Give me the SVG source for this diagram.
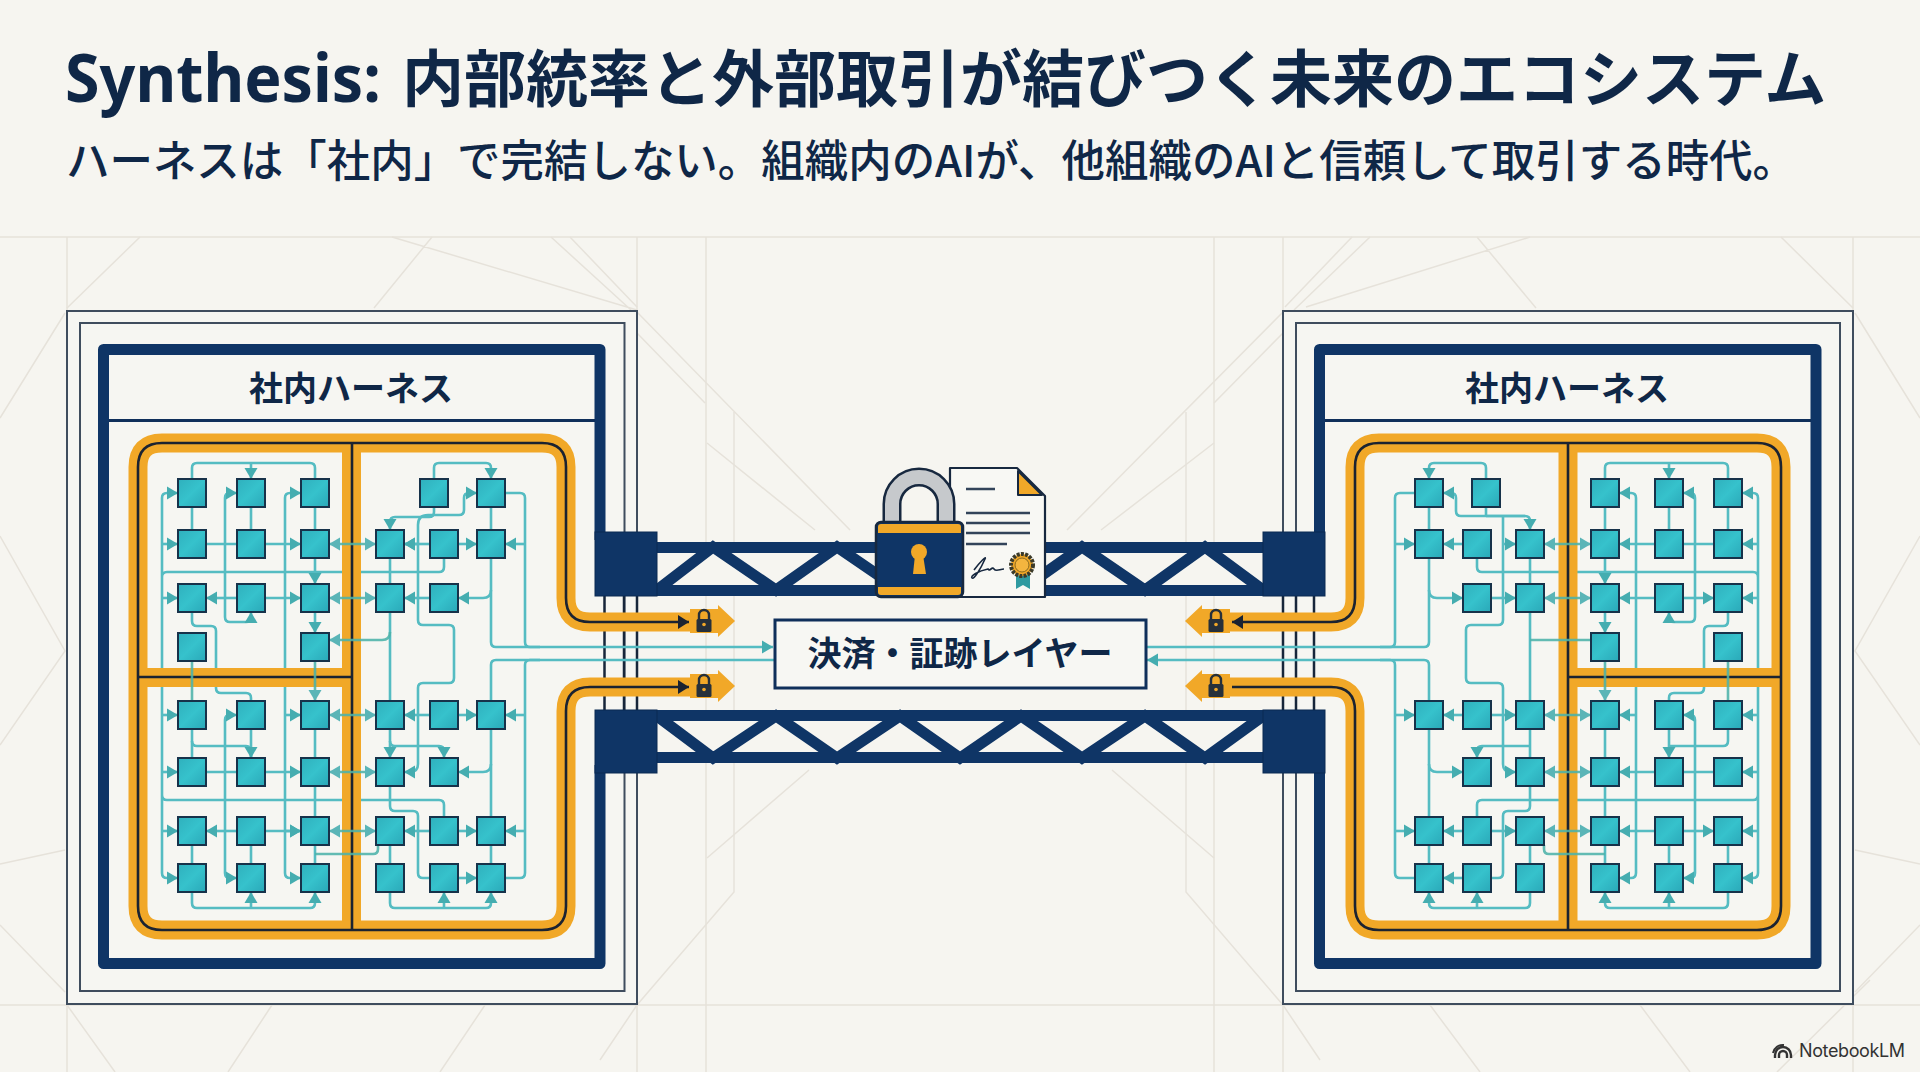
<svg xmlns="http://www.w3.org/2000/svg" width="1920" height="1072" viewBox="0 0 1920 1072">
<style>
text{font-family:"Noto Sans CJK JP","Noto Sans",sans-serif;fill:#0f2747}
.bg line,.bg path{stroke:#e6e2da;stroke-width:1.5;fill:none}
.o1{fill:#f6f6f2;stroke:#3f4d5e;stroke-width:2}
.fr{fill:none;stroke:#0f3566;stroke-width:11;stroke-linejoin:round}
.thin{stroke:#17263a;stroke-width:2.5;fill:none}
.hd{stroke:#0f2f5a;stroke-width:3}
.ob{fill:none;stroke:#f1a828;stroke-width:19}
.obk{fill:none;stroke:#1b2331;stroke-width:2.6}
.c path{fill:none;stroke:#55bcc2;stroke-width:2.6}
.c path.a{marker-end:url(#ah)}
.c path.d{marker-start:url(#ah);marker-end:url(#ah)}
.f path{stroke:#4db3aa;opacity:.88}
.n{fill:url(#ng);stroke:#17324a;stroke-width:2}
.blk{fill:#0f3566;stroke:#0b2a52;stroke-width:1}
.ch{fill:#0f3566}
.dg{stroke:#0f3566;stroke-width:11;fill:none}
.chip{fill:#f1a828}
.lk{fill:#26303a}
.lks{fill:none;stroke:#26303a;stroke-width:2.4}
.dl{stroke:#33445a;stroke-width:2.6}
</style>
<defs>
<linearGradient id="ng" x1="0" y1="0" x2="1" y2="1"><stop offset="0" stop-color="#2fb0bd"/><stop offset=".5" stop-color="#36c2cc"/><stop offset="1" stop-color="#2aa8b8"/></linearGradient>
<marker id="ah" markerUnits="userSpaceOnUse" markerWidth="12" markerHeight="14" refX="11" refY="7" orient="auto-start-reverse"><path d="M0,.5L11,7L0,13.5Z" fill="#45adb0"/></marker>
<marker id="bh" markerUnits="userSpaceOnUse" markerWidth="12" markerHeight="14" refX="11" refY="7" orient="auto"><path d="M0,0L11,7L0,14Z" fill="#1b2331"/></marker>
<g id="tinylock"><path class="lks" d="M-5,-1V-6A5,5 0 0 1 5,-6V-1"/><rect class="lk" x="-7.5" y="-2" width="15" height="13" rx="1.5"/><circle cx="0" cy="3.5" r="1.8" fill="#f1a828"/></g>
</defs>
<rect width="1920" height="1072" fill="#f6f5f0"/>
<g id="background" class="bg">
<line x1="0" y1="237" x2="1920" y2="237"/><line x1="0" y1="1005" x2="1920" y2="1005"/>
<line x1="67" y1="237" x2="67" y2="1072"/><line x1="637" y1="237" x2="637" y2="1072"/><line x1="706" y1="237" x2="706" y2="1072"/><line x1="1214" y1="237" x2="1214" y2="1072"/><line x1="1283" y1="237" x2="1283" y2="1072"/><line x1="1853" y1="237" x2="1853" y2="1072"/>
<path d="M734,412V892L637,1005L600,1060M1186,412V892L1283,1005L1320,1060"/>
<path d="M140,237L67,308M432,237L374,308M392,237L637,310M551,237L631,310M570,237L637,307M1352,237L1285,307M1370,237L1294,310M1530,237L1306,307M1477,237L1536,308M1781,237L1853,308"/>
<path d="M637,312L850,530M637,333L705,403M707,443L815,530M1283,312L1067,530M1283,333L1214,403M1214,443L1101,530M809,770L707,858M1112,770L1214,858"/>
<path d="M65,313L0,418M0,536L65,651L0,745M65,850L0,864M0,925L65,992M1855,313L1920,418M1920,536L1855,651L1920,745M1855,850L1920,864M1920,925L1855,992"/>
<path d="M67,1005L115,1072M272,1005L228,1072M485,1005L440,1072M1430,1005L1480,1072M1640,1005L1690,1072M1870,980L1777,1072"/>
</g>
<rect class="o1" x="67" y="311" width="570" height="693"/><rect class="o1" x="80" y="323" width="544.5" height="668"/>
<rect class="o1" x="1283" y="311" width="570" height="693"/><rect class="o1" x="1296" y="323" width="544" height="668"/>
<g id="harness-frames">
<path class="thin" d="M604.5,596V710M624,596V710M637,596V710M1314,596V710M1296,596V710M1283,596V710"/>
<path class="fr" d="M600,540V349.5H103.5V963.5H600V765"/>
<path class="fr" d="M1319.5,540V349.5H1816V963.5H1319.5V765"/>
<line class="hd" x1="109" y1="420.5" x2="595" y2="420.5"/><line class="hd" x1="1325" y1="420.5" x2="1811" y2="420.5"/>
</g>
<g id="connectors-under" class="c">
<path d="M162,498V873M225,498V617M225,720V873M285,498V873M444,558V567Q444,572 439,572H167Q162,572 162,577M162,795Q162,800 167,800H439Q444,800 444,805V817M192,612V621Q192,626 197,626H211Q216,626 216,631V688Q216,693 221,693H246Q251,693 251,698V701"/>
<path d="M1636,498V873M1695,498V617M1695,720V873M1758,498V873M1477,558V567Q1477,572 1482,572H1753Q1758,572 1758,577M1758,795Q1758,800 1753,800H1482Q1477,800 1477,805V817M1728,612V621Q1728,626 1723,626H1709Q1704,626 1704,631V688Q1704,693 1699,693H1674Q1669,693 1669,698V701"/>
</g>
<g id="orange-paths">
<path class="ob" d="M690,622H590Q566,622 566,598V467Q566,443 542,443H162Q138,443 138,467V906Q138,930 162,930H542Q566,930 566,906V711Q566,687 590,687H690"/>
<path class="ob" d="M351.5,443V930M138,677.5H352"/>
<path class="ob" d="M1230,622H1331Q1355,622 1355,598V467Q1355,443 1379,443H1757Q1781,443 1781,467V906Q1781,930 1757,930H1379Q1355,930 1355,906V711Q1355,687 1331,687H1230"/>
<path class="ob" d="M1568,443V930M1568,677.5H1781"/>
<path class="obk" d="M590,622Q566,622 566,598V467Q566,443 542,443H162Q138,443 138,467V906Q138,930 162,930H542Q566,930 566,906V711Q566,687 590,687"/>
<path class="obk" d="M352,443V930M138,677H352"/>
<path class="obk" d="M1331,622Q1355,622 1355,598V467Q1355,443 1379,443H1757Q1781,443 1781,467V906Q1781,930 1757,930H1379Q1355,930 1355,906V711Q1355,687 1331,687H1232"/>
<path class="obk" d="M1568,443V930M1568,677H1781"/>
<path class="obk" marker-end="url(#bh)" d="M590,622H689"/><path class="obk" marker-end="url(#bh)" d="M590,687H689"/><path class="obk" marker-end="url(#bh)" d="M1331,622H1232"/>
</g>
<g id="connectors" class="c">
<!-- left -->
<path d="M192,479V468Q192,463 197,463H310Q315,463 315,468V479"/><path class="a" d="M251,463V479"/>
<path class="a" d="M434,479V468Q434,463 439,463H486Q491,463 491,468V479"/>
<path class="a" d="M162,498Q162,493 167,493H178"/><path class="a" d="M162,873Q162,878 167,878H178"/>
<path class="a" d="M162,544H178"/><path class="a" d="M162,598H178"/><path class="a" d="M162,715H178"/><path class="a" d="M162,772H178"/><path class="a" d="M162,831H178"/>
<path class="a" d="M225,498Q225,493 230,493H237"/><path class="a" d="M225,617Q225,622 230,622H246Q251,622 251,617V612"/><path class="a" d="M225,720Q225,715 230,715H237"/><path class="a" d="M225,873Q225,878 230,878H237"/>
<path class="a" d="M285,498Q285,493 290,493H301"/><path class="a" d="M285,873Q285,878 290,878H301"/><path class="a" d="M285,715H301"/><path class="a" d="M285,831H301"/>
<path d="M192,507V530M251,507V530M315,507V530M206,544H237M206,772H237M192,729V758M251,729V758M315,729V758M315,786V817M192,845V864M251,845V864M315,845V864M390,845V864M491,845V864M491,507V530M390,558V584M390,612V701"/>
<path class="a" d="M315,558V584"/><path class="a" d="M315,612V633"/>
<path class="a" d="M265,544H301"/><path class="a" d="M418,544H404"/><path class="a" d="M430,544H404"/><path class="a" d="M458,544H477"/><path class="a" d="M525,544H505"/>
<path class="a" d="M237,598H206"/><path class="a" d="M265,598H301"/><path class="a" d="M430,598H404"/><path class="a" d="M491,590Q491,598 483,598H458"/>
<path class="a" d="M491,558V642Q491,647 496,647H773"/><path d="M505,493H520Q525,493 525,498V642Q525,647 530,647H540"/>
<path d="M775,660H496Q491,660 491,665V701"/><path d="M540,660H530Q525,660 525,665V873Q525,878 520,878H505"/>
<path d="M491,729V817"/><path class="a" d="M491,764Q491,772 483,772H458"/><path class="a" d="M525,715H505"/><path class="a" d="M525,831H505"/>
<path class="a" d="M434,507V512Q434,517 429,517H395Q390,517 390,522V530"/>
<path class="a" d="M418,525Q418,515 428,515H459Q464,515 464,510V498Q464,493 469,493H477"/>
<path class="a" d="M418,525V620Q418,625 423,625H449Q454,625 454,630V678Q454,683 449,683H423Q418,683 418,688V764Q418,772 410,772H404"/>
<path class="a" d="M390,729V758"/><path class="a" d="M390,741Q390,746 395,746H439Q444,746 444,751V758"/>
<path d="M390,786V806Q390,811 395,811H413Q418,811 418,816V873Q418,878 423,878H430"/>
<path class="a" d="M192,741Q192,746 197,746H246Q251,746 251,751V758"/>
<path class="a" d="M430,715H404"/><path class="a" d="M458,715H477"/><path class="a" d="M265,772H301"/>
<path class="a" d="M237,831H206"/><path class="a" d="M265,831H301"/><path class="a" d="M430,831H404"/><path class="a" d="M458,831H477"/><path class="a" d="M458,878H477"/>
<path class="a" d="M192,892V903Q192,908 197,908H310Q315,908 315,903V892"/><path class="a" d="M251,908V892"/>
<path class="a" d="M390,892V903Q390,908 395,908H486Q491,908 491,903V892"/><path class="a" d="M444,908V892"/>
<!-- right -->
<path class="a" d="M1486,479V468Q1486,463 1481,463H1434Q1429,463 1429,468V479"/>
<path d="M1605,479V468Q1605,463 1610,463H1723Q1728,463 1728,468V479"/><path class="a" d="M1669,463V479"/>
<path class="a" d="M1636,498Q1636,493 1631,493H1619"/><path class="a" d="M1636,873Q1636,878 1631,878H1619"/><path class="a" d="M1636,715H1619"/>
<path class="a" d="M1695,498Q1695,493 1690,493H1683"/><path class="a" d="M1695,617Q1695,622 1690,622H1674Q1669,622 1669,617V612"/><path class="a" d="M1695,720Q1695,715 1690,715H1683"/><path class="a" d="M1695,873Q1695,878 1690,878H1683"/>
<path class="a" d="M1758,498Q1758,493 1753,493H1742"/><path class="a" d="M1758,873Q1758,878 1753,878H1742"/><path class="a" d="M1758,544H1742"/><path class="a" d="M1758,598H1742"/><path class="a" d="M1758,715H1742"/><path class="a" d="M1758,772H1742"/><path class="a" d="M1758,831H1742"/>
<path d="M1605,507V530M1669,507V530M1728,507V530M1714,544H1683M1714,772H1683M1530,558V584M1530,612V701M1429,507V530M1486,507V516M1486,516H1525M1530,729V758M1429,729V817M1605,729V864M1728,729V741Q1728,746 1723,746H1669M1429,845V864M1530,845V864M1669,845V864M1728,845V864"/>
<path class="a" d="M1605,558V584"/><path class="a" d="M1605,612V633"/>
<path class="a" d="M1655,544H1619"/><path class="a" d="M1503,544H1516"/><path class="a" d="M1463,544H1443"/><path class="a" d="M1395,544H1415"/>
<path class="a" d="M1655,598H1619"/><path class="a" d="M1683,598H1714"/><path class="a" d="M1491,598H1516"/><path class="a" d="M1429,590Q1429,598 1437,598H1463"/>
<path d="M1429,558V642Q1429,647 1424,647H1146"/><path class="a" d="M1429,701V665Q1429,660 1424,660H1147"/>
<path d="M1415,493H1400Q1395,493 1395,498V642Q1395,647 1390,647H1380"/><path d="M1380,660H1390Q1395,660 1395,665V873Q1395,878 1400,878H1415"/>
<path class="a" d="M1395,715H1415"/><path class="a" d="M1395,831H1415"/>
<path class="a" d="M1525,516H1461Q1456,516 1456,511V498Q1456,493 1451,493H1443"/><path class="a" d="M1525,516Q1530,516 1530,521V530"/>
<path class="a" d="M1503,516V620Q1503,625 1498,625H1471Q1466,625 1466,630V678Q1466,683 1471,683H1498Q1503,683 1503,688V764Q1503,772 1511,772H1516"/>
<path class="a" d="M1463,715H1443"/><path class="a" d="M1491,715H1516"/><path class="a" d="M1429,764Q1429,772 1437,772H1463"/>
<path class="a" d="M1530,746H1482Q1477,746 1477,751V758"/><path class="a" d="M1655,772H1619"/><path class="a" d="M1669,729V758"/>
<path d="M1530,786V806Q1530,811 1525,811H1508Q1503,811 1503,816V873Q1503,878 1498,878H1491"/>
<path class="a" d="M1463,831H1443"/><path class="a" d="M1491,831H1516"/><path class="a" d="M1655,831H1619"/><path class="a" d="M1683,831H1714"/><path class="a" d="M1463,878H1443"/>
<path class="a" d="M1530,892V903Q1530,908 1525,908H1434Q1429,908 1429,903V892"/><path class="a" d="M1477,908V892"/>
<path class="a" d="M1728,892V903Q1728,908 1723,908H1610Q1605,908 1605,903V892"/><path class="a" d="M1669,908V892"/>
</g>
<g id="connectors-over" class="c f">
<path class="d" d="M329,544H376"/><path class="d" d="M329,598H376"/><path class="d" d="M329,715H376"/><path class="d" d="M329,772H376"/><path class="d" d="M329,831H376"/>
<path class="a" d="M390,632Q390,640 382,640H329"/><path class="a" d="M315,661V701"/><path d="M192,661V701"/><path d="M315,854H373Q378,854 378,849V845"/>
<path class="d" d="M1544,544H1591"/><path class="d" d="M1544,598H1591"/><path class="d" d="M1544,715H1591"/><path class="d" d="M1544,772H1591"/><path class="d" d="M1544,831H1591"/>
<path d="M1530,640H1591"/><path class="a" d="M1605,661V701"/><path d="M1728,661V701"/><path d="M1544,845V849Q1544,854 1549,854H1605"/>
</g>
<g id="nodes-left">
<g id="l1"><rect class="n" x="178" y="479" width="28" height="28"/></g><g id="l2"><rect class="n" x="237" y="479" width="28" height="28"/></g><g id="l3"><rect class="n" x="301" y="479" width="28" height="28"/></g><g id="l4"><rect class="n" x="420" y="479" width="28" height="28"/></g><g id="l5"><rect class="n" x="477" y="479" width="28" height="28"/></g>
<g id="l6"><rect class="n" x="178" y="530" width="28" height="28"/></g><g id="l7"><rect class="n" x="237" y="530" width="28" height="28"/></g><g id="l8"><rect class="n" x="301" y="530" width="28" height="28"/></g><g id="l9"><rect class="n" x="376" y="530" width="28" height="28"/></g><g id="l10"><rect class="n" x="430" y="530" width="28" height="28"/></g><g id="l11"><rect class="n" x="477" y="530" width="28" height="28"/></g>
<g id="l12"><rect class="n" x="178" y="584" width="28" height="28"/></g><g id="l13"><rect class="n" x="237" y="584" width="28" height="28"/></g><g id="l14"><rect class="n" x="301" y="584" width="28" height="28"/></g><g id="l15"><rect class="n" x="376" y="584" width="28" height="28"/></g><g id="l16"><rect class="n" x="430" y="584" width="28" height="28"/></g>
<g id="l17"><rect class="n" x="178" y="633" width="28" height="28"/></g><g id="l18"><rect class="n" x="301" y="633" width="28" height="28"/></g>
<g id="l19"><rect class="n" x="178" y="701" width="28" height="28"/></g><g id="l20"><rect class="n" x="237" y="701" width="28" height="28"/></g><g id="l21"><rect class="n" x="301" y="701" width="28" height="28"/></g><g id="l22"><rect class="n" x="376" y="701" width="28" height="28"/></g><g id="l23"><rect class="n" x="430" y="701" width="28" height="28"/></g><g id="l24"><rect class="n" x="477" y="701" width="28" height="28"/></g>
<g id="l25"><rect class="n" x="178" y="758" width="28" height="28"/></g><g id="l26"><rect class="n" x="237" y="758" width="28" height="28"/></g><g id="l27"><rect class="n" x="301" y="758" width="28" height="28"/></g><g id="l28"><rect class="n" x="376" y="758" width="28" height="28"/></g><g id="l29"><rect class="n" x="430" y="758" width="28" height="28"/></g>
<g id="l30"><rect class="n" x="178" y="817" width="28" height="28"/></g><g id="l31"><rect class="n" x="237" y="817" width="28" height="28"/></g><g id="l32"><rect class="n" x="301" y="817" width="28" height="28"/></g><g id="l33"><rect class="n" x="376" y="817" width="28" height="28"/></g><g id="l34"><rect class="n" x="430" y="817" width="28" height="28"/></g><g id="l35"><rect class="n" x="477" y="817" width="28" height="28"/></g>
<g id="l36"><rect class="n" x="178" y="864" width="28" height="28"/></g><g id="l37"><rect class="n" x="237" y="864" width="28" height="28"/></g><g id="l38"><rect class="n" x="301" y="864" width="28" height="28"/></g><g id="l39"><rect class="n" x="376" y="864" width="28" height="28"/></g><g id="l40"><rect class="n" x="430" y="864" width="28" height="28"/></g><g id="l41"><rect class="n" x="477" y="864" width="28" height="28"/></g>
</g>
<g id="nodes-right">
<g id="r1"><rect class="n" x="1415" y="479" width="28" height="28"/></g><g id="r2"><rect class="n" x="1472" y="479" width="28" height="28"/></g><g id="r3"><rect class="n" x="1591" y="479" width="28" height="28"/></g><g id="r4"><rect class="n" x="1655" y="479" width="28" height="28"/></g><g id="r5"><rect class="n" x="1714" y="479" width="28" height="28"/></g>
<g id="r6"><rect class="n" x="1415" y="530" width="28" height="28"/></g><g id="r7"><rect class="n" x="1463" y="530" width="28" height="28"/></g><g id="r8"><rect class="n" x="1516" y="530" width="28" height="28"/></g><g id="r9"><rect class="n" x="1591" y="530" width="28" height="28"/></g><g id="r10"><rect class="n" x="1655" y="530" width="28" height="28"/></g><g id="r11"><rect class="n" x="1714" y="530" width="28" height="28"/></g>
<g id="r12"><rect class="n" x="1463" y="584" width="28" height="28"/></g><g id="r13"><rect class="n" x="1516" y="584" width="28" height="28"/></g><g id="r14"><rect class="n" x="1591" y="584" width="28" height="28"/></g><g id="r15"><rect class="n" x="1655" y="584" width="28" height="28"/></g><g id="r16"><rect class="n" x="1714" y="584" width="28" height="28"/></g>
<g id="r17"><rect class="n" x="1591" y="633" width="28" height="28"/></g><g id="r18"><rect class="n" x="1714" y="633" width="28" height="28"/></g>
<g id="r19"><rect class="n" x="1415" y="701" width="28" height="28"/></g><g id="r20"><rect class="n" x="1463" y="701" width="28" height="28"/></g><g id="r21"><rect class="n" x="1516" y="701" width="28" height="28"/></g><g id="r22"><rect class="n" x="1591" y="701" width="28" height="28"/></g><g id="r23"><rect class="n" x="1655" y="701" width="28" height="28"/></g><g id="r24"><rect class="n" x="1714" y="701" width="28" height="28"/></g>
<g id="r25"><rect class="n" x="1463" y="758" width="28" height="28"/></g><g id="r26"><rect class="n" x="1516" y="758" width="28" height="28"/></g><g id="r27"><rect class="n" x="1591" y="758" width="28" height="28"/></g><g id="r28"><rect class="n" x="1655" y="758" width="28" height="28"/></g><g id="r29"><rect class="n" x="1714" y="758" width="28" height="28"/></g>
<g id="r30"><rect class="n" x="1415" y="817" width="28" height="28"/></g><g id="r31"><rect class="n" x="1463" y="817" width="28" height="28"/></g><g id="r32"><rect class="n" x="1516" y="817" width="28" height="28"/></g><g id="r33"><rect class="n" x="1591" y="817" width="28" height="28"/></g><g id="r34"><rect class="n" x="1655" y="817" width="28" height="28"/></g><g id="r35"><rect class="n" x="1714" y="817" width="28" height="28"/></g>
<g id="r36"><rect class="n" x="1415" y="864" width="28" height="28"/></g><g id="r37"><rect class="n" x="1463" y="864" width="28" height="28"/></g><g id="r38"><rect class="n" x="1516" y="864" width="28" height="28"/></g><g id="r39"><rect class="n" x="1591" y="864" width="28" height="28"/></g><g id="r40"><rect class="n" x="1655" y="864" width="28" height="28"/></g><g id="r41"><rect class="n" x="1714" y="864" width="28" height="28"/></g>
</g>
<g id="bridge-top">
<rect x="657" y="545" width="606" height="48" fill="#f6f5f0"/>
<path class="dg" d="M657,590L713,547L776,590L837,547L900,590L960,547L1021,590L1082,547L1145,590L1205,547L1263,590"/>
<rect class="ch" x="657" y="542" width="606" height="11"/><rect class="ch" x="657" y="585" width="606" height="11"/>
<rect class="blk" x="595" y="532" width="62" height="64"/><rect class="blk" x="1263" y="532" width="62" height="64"/>
</g>
<g id="bridge-bottom">
<rect x="657" y="715" width="606" height="45" fill="#f6f5f0"/>
<path class="dg" d="M657,716L713,758L776,716L837,758L900,716L960,758L1021,716L1082,758L1145,716L1205,758L1263,716"/>
<rect class="ch" x="657" y="710" width="606" height="11"/><rect class="ch" x="657" y="752" width="606" height="11"/>
<rect class="blk" x="595" y="710" width="62" height="63"/><rect class="blk" x="1263" y="710" width="62" height="63"/>
</g>
<g id="chips">
<g id="chip-l1"><path class="chip" d="M690,609H718V605L735,621L718,637V633H690Z"/><use href="#tinylock" x="704" y="621"/></g>
<g id="chip-l2"><path class="chip" d="M690,674H718V670L735,686L718,702V698H690Z"/><use href="#tinylock" x="704" y="686"/></g>
<g id="chip-r1"><path class="chip" d="M1230,609H1202V605L1185,621L1202,637V633H1230Z"/><use href="#tinylock" x="1216" y="621"/></g>
<g id="chip-r2"><path class="chip" d="M1230,674H1202V670L1185,686L1202,702V698H1230Z"/><use href="#tinylock" x="1216" y="686"/></g>
</g>
<g id="layer-node"><rect x="775" y="620" width="371" height="68" fill="#f7f7f3" stroke="#0f2f5a" stroke-width="3"/><text x="960" y="666" font-size="34" font-weight="700" text-anchor="middle">決済・証跡レイヤー</text></g>
<g id="certificate">
<path d="M950,468H1017L1045,496V597H950Z" fill="#f8f8f4" stroke="#17283f" stroke-width="2.2" stroke-linejoin="round"/>
<path d="M1018,471V495H1042Z" fill="#f1a828" stroke="#17283f" stroke-width="2" stroke-linejoin="round"/>
<path class="dl" d="M966,489H995M966,513H1030M966,523H1030M966,533H1030M966,544H1007" fill="none"/>
<path d="M974,570C980,562 987,555 985,559C981,568 974,580 972,578C970,576 978,571 988,569C990,572 992,566 994,569C996,572 1000,569 1004,569" fill="none" stroke="#17283f" stroke-width="1.6"/>
<path d="M1016,574V589L1023,585L1030,589V574Z" fill="#2f9aa0"/>
<circle cx="1022" cy="565" r="11" fill="#f1a828" stroke="#3a3a2a" stroke-width="4" stroke-dasharray="3 1.2"/><circle cx="1022" cy="565" r="7" fill="#f4b53f" stroke="#8a6a20"/>
</g>
<g id="padlock">
<path d="M892,525V504A27,27 0 0 1 946,504V525" fill="none" stroke="#17283f" stroke-width="19"/>
<path d="M892,525V504A27,27 0 0 1 946,504V525" fill="none" stroke="#c6c9cc" stroke-width="14"/>
<rect x="876" y="522" width="87" height="75" rx="5" fill="#0f3566" stroke="#17283f" stroke-width="2.5"/>
<path d="M878,533V527Q878,524 881,524H958Q961,524 961,527V533Z" fill="#f1a828"/>
<path d="M878,587V592Q878,595 881,595H958Q961,595 961,592V587Z" fill="#f1a828"/>
<circle cx="919" cy="552" r="8" fill="#f1a828"/><path d="M915,555L913,574H926L923,555Z" fill="#f1a828"/>
</g>
<g id="header-left"><text x="351" y="401" font-size="34" font-weight="700" text-anchor="middle">社内ハーネス</text></g>
<g id="header-right"><text x="1567" y="401" font-size="34" font-weight="700" text-anchor="middle">社内ハーネス</text></g>
<g id="title">
<text x="65" y="102" font-size="66" font-weight="700" textLength="316" lengthAdjust="spacingAndGlyphs" style="font-family:'Noto Sans','Noto Sans CJK JP',sans-serif">Synthesis:</text>
<text x="402" y="102" font-size="62" font-weight="700">内部統率と外部取引が結びつく未来のエコシステム</text>
<text x="66" y="177" font-size="44" font-weight="500" textLength="1730" lengthAdjust="spacingAndGlyphs">ハーネスは「社内」で完結しない。組織内のAIが、他組織のAIと信頼して取引する時代。</text>
</g>
<g id="watermark">
<path d="M1775,1058V1055A8,8 0 0 1 1791,1055V1058M1779,1058V1055A4,4 0 0 1 1787,1055V1058" fill="none" stroke="#333" stroke-width="2.4"/>
<path d="M1773,1053A10,10 0 0 1 1784,1045" fill="none" stroke="#333" stroke-width="2"/>
<text x="1799" y="1057" font-size="18" textLength="106" style="font-family:Inter,'Liberation Sans',sans-serif;fill:#333">NotebookLM</text>
</g>
</svg>
